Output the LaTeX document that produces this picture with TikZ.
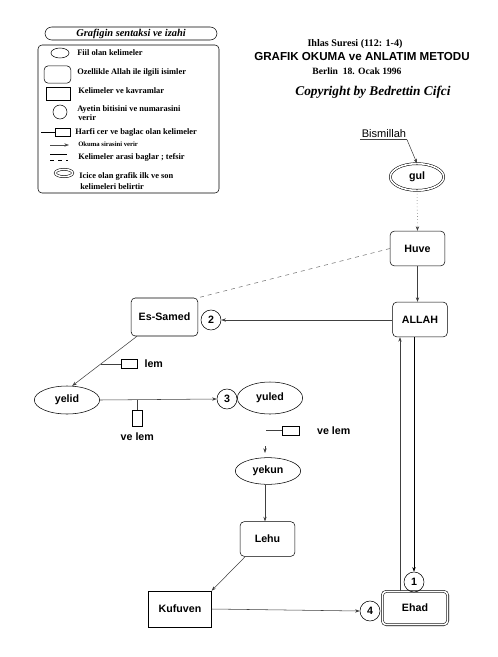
\documentclass[tikz,border=0pt]{standalone}
\usepackage{fontspec}
\setmainfont{Liberation Serif}
\setsansfont{Liberation Sans}
\usetikzlibrary{shapes.geometric,arrows.meta,positioning}

\tikzset{
  graf/.style={font=\sffamily\bfseries\fontsize{8}{9}\selectfont},
  isim/.style={graf, draw, rounded corners=3pt, minimum width=41pt, minimum height=26pt},
  kavram/.style={graf, draw, minimum width=47pt, minimum height=27pt},
  fiil/.style={graf, draw, ellipse, minimum width=49pt, minimum height=21pt},
  ayet/.style={graf, draw, circle, minimum size=15pt, inner sep=0pt},
  harf/.style={draw, minimum width=12pt, minimum height=7pt, inner sep=0pt},
  icice/.style={double, double distance=1.2pt},
  oku/.style={-{Stealth[length=3.5pt,width=2.5pt]}},
  lejant/.style={font=\bfseries\fontsize{6.3}{7}\selectfont, anchor=west, inner sep=0pt},
}

\begin{document}
\begin{tikzpicture}[x=0.75pt, y=-0.75pt, line width=0.4pt]
    \useasboundingbox (0,0) rectangle (498,657);

    % lejant: baslik ve cerceve
    \node[draw, rounded corners=5pt, minimum width=129pt, minimum height=9.75pt, inner sep=0pt,
          font=\bfseries\itshape\fontsize{7.8}{8}\selectfont] (lbaslik) at (131,33.5) {Grafigin sentaksi ve izahi};
    \draw[rounded corners=3pt] (38,45) rectangle (219,193);

    % lejant: semboller
    \node[draw, ellipse, minimum width=13.5pt, minimum height=7.5pt, inner sep=0pt] (lfiil) at (60,53) {};
    \node[draw, rounded corners=3pt, minimum width=20pt, minimum height=13pt] (lisim) at (57.5,74.5) {};
    \node[draw, minimum width=18pt, minimum height=10pt] (lkavram) at (58,93.5) {};
    \node[draw, circle, minimum size=10.5pt, inner sep=0pt] (layet) at (60,112) {};
    \node[draw, minimum width=11pt, minimum height=6pt, inner sep=0pt] (lharf) at (62.5,132) {};
    \coordinate (lharfk) at (41,132);
    \draw (lharfk) -- (lharf.west);
    \coordinate (loku1) at (50,145);
    \coordinate (loku2) at (69,145);
    \draw[oku, black!70] (loku1) -- (loku2);
    \coordinate (lbag1) at (50,154);
    \coordinate (lbag2) at (67,154);
    \draw (lbag1) -- (lbag2);
    \coordinate (ltef1) at (50,160);
    \coordinate (ltef2) at (68,160);
    \draw[dashed] (ltef1) -- (ltef2);
    \node[draw, icice, ellipse, minimum width=13pt, minimum height=5.5pt, inner sep=0pt] (licice) at (64,173) {};

    % lejant: yazilar
    \node[lejant] at (77,53) {Fiil olan kelimeler};
    \node[lejant] at (77,73) {Ozellikle Allah ile ilgili isimler};
    \node[lejant] at (78,91) {Kelimeler ve kavramlar};
    \node[lejant] at (77,109) {Ayetin bitisini ve numarasini};
    \node[lejant] at (78,118) {verir};
    \node[lejant] at (75,132) {Harfi cer ve baglac olan kelimeler};
    \node[lejant, font=\bfseries\fontsize{5}{5.5}\selectfont] at (78,144) {Okuma sirasini verir};
    \node[lejant] at (78,157) {Kelimeler arasi baglar ; tefsir};
    \node[lejant] at (79,176) {Icice olan grafik ilk ve son};
    \node[lejant] at (80,187) {kelimeleri belirtir};

    % basliklar
    \node[font=\bfseries\fontsize{7.6}{8}\selectfont] (sure) at (355,44) {Ihlas Suresi (112: 1-4)};
    \node[font=\sffamily\bfseries\fontsize{8.7}{9}\selectfont] (metod) at (362,57) {GRAFIK OKUMA ve ANLATIM METODU};
    \node[font=\bfseries\fontsize{7.2}{8}\selectfont] (tarih) at (357,71) {Berlin~~18. Ocak 1996};
    \node[font=\bfseries\itshape\fontsize{10}{11}\selectfont] (telif) at (373,92) {Copyright by Bedrettin Cifci};

    % grafik: dugumler
    \node[font=\sffamily\fontsize{8.3}{9}\selectfont, inner sep=1pt] (bism) at (384,134) {Bismillah};
    \node[fiil, icice, minimum width=40pt, minimum height=18pt] (gul) at (417,177) {gul};
    \node[isim] (huve) at (417.5,248.5) {Huve};
    \node[isim] (allah) at (420,319.5) {ALLAH};
    \node[isim, minimum width=50pt, minimum height=28.5pt] (samed) at (164.5,317) {Es-Samed};
    \node[ayet] (k2) at (211,320) {2};
    \node[fiil] (yelid) at (67,400) {yelid};
    \node[ayet] (k3) at (227,399) {3};
    \node[fiil, minimum height=24pt] (yuled) at (270,398) {yuled};
    \node[fiil, minimum height=20pt] (yekun) at (268,471) {yekun};
    \node[isim] (lehu) at (267.5,539) {Lehu};
    \node[kavram] (kufuven) at (180,609) {Kufuven};
    \node[ayet] (k4) at (370,611) {4};
    \node[graf, draw, icice, rounded corners=3pt, minimum width=49pt, minimum height=25pt] (ehad) at (415,608) {Ehad};
    \node[ayet] (k1) at (414,582) {1};

    % grafik: baglantilar
    \coordinate (bismk) at (407,143);
    \draw[black!75] (bism.south west) -- (bism.south west -| bismk);
    \draw[oku, black!75] (bism.south west -| bismk) -- (gul.north);
    \draw[oku, dotted, black!75] (gul.south) -- (huve.north);
    \draw[oku, black!75] (huve.south) -- (huve.south |- allah.north);
    \draw[dashed, black!55] (huve.west) -- (samed.north east);
    \draw[oku, black!75] (allah.west |- k2.east) -- (k2.east);
    \draw[oku, black!75] (samed.215) -- coordinate[pos=0.56] (lemk) (yelid.70);
    \node[harf, right=15pt of lemk] (lem) {};
    \node[graf, right=2pt of lem] (lemyazi) {lem};
    \draw[black!75] (lemk) -- (lem.west);
    \draw[oku, black!75] (yelid.east) -- coordinate[pos=0.32] (velemk) (k3.west);
    \node[harf, minimum width=7pt, minimum height=12pt, below=8pt of velemk] (velem) {};
    \node[graf, below=1pt of velem] (velemyazi) {ve lem};
    \draw[black!75] (velemk) -- (velem.north);
    \node[harf, minimum width=12.5pt] (velem2) at (290.5,430.5) {};
    \node[graf, right=10pt of velem2] (velem2yazi) {ve lem};
    \coordinate (velem2k) at (266,430.5);
    \draw[black!75] (velem2k) -- (velem2.west);
    \coordinate (yekunk) at (265,446);
    \draw[oku, black!75] (yekunk) -- (265,453);
    \draw[oku, black!75] (yekun.south -| 265,0) -- (lehu.north -| 265,0);
    \draw[oku, black!75] ([xshift=4pt]lehu.south west) -- (kufuven.north east);
    \draw[oku, black!75] (kufuven.east) -- (k4.west);
    \draw[oku, black!75] ([xshift=-11.25pt]ehad.north) -- ([xshift=-11.25pt]ehad.north |- allah.south);
    \draw[oku] (allah.south -| k1.north) -- (k1.north);
\end{tikzpicture}
\end{document}
